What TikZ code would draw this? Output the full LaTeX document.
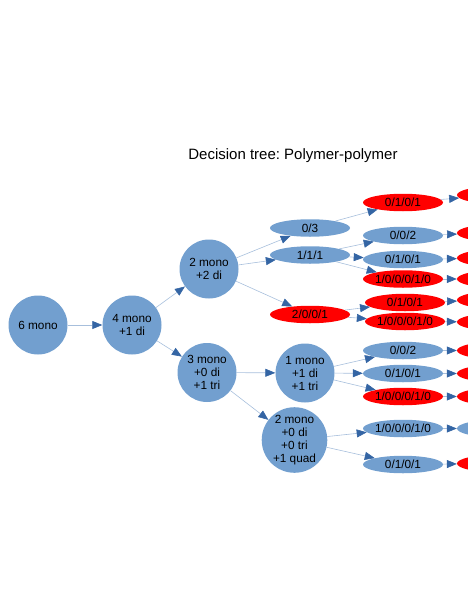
\documentclass[tikz,border=0pt]{standalone}
\usepackage{fontspec}
\setmainfont{Liberation Sans}
\frenchspacing
\usetikzlibrary{arrows.meta,shapes.geometric}
\definecolor{nodeblue}{HTML}{729FCF}
\definecolor{nodered}{HTML}{FF0000}
\definecolor{tipblue}{HTML}{3465A4}
\definecolor{lineblue}{HTML}{A7BFDC}
\tikzset{
  circ/.style={circle, fill=nodeblue, minimum size=#1, inner sep=0pt, align=center,
    font=\fontsize{11.8}{13}\selectfont},
  circ/.default=59pt,
  ell/.style={ellipse, fill=#1, minimum width=80pt, minimum height=17.5pt, inner sep=0pt,
    font=\fontsize{11.8}{13}\selectfont},
  conn/.style={draw=lineblue, line width=0.6pt,
    -{Triangle[length=10pt,width=8pt,color=tipblue]}},
}
\begin{document}
\begin{tikzpicture}[x=1pt,y=-1pt]
\useasboundingbox (0,0) rectangle (468,605);
\clip (0,0) rectangle (468,605);
\node[font=\fontsize{15}{17}\selectfont] (title) at (293,156) {Decision tree: Polymer-polymer};

% circles
\node[circ] (m6) at (38,325) {6 mono};
\node[circ] (m4) at (132,325) {4 mono\\+1 di};
\node[circ] (m2) at (209,269) {2 mono\\+2 di};
\node[circ] (m3) at (207,372.5) {3 mono\\+0 di\\+1 tri};
\node[circ] (m1) at (305,373) {1 mono\\+1 di\\+1 tri};
\node[circ=63pt] (mq) at (294.5,440) {2 mono\\+0 di\\+0 tri\\+1 quad};

% middle column
\node[ell=nodeblue] (a03) at (310,228) {0/3};
\node[ell=nodeblue] (a111) at (310,255) {1/1/1};
\node[ell=nodered] (a2001) at (310,314.5) {2/0/0/1};

% right column
\node[ell=nodered] (b1) at (403,202.5) {0/1/0/1};
\node[ell=nodeblue] (b2) at (403,235.5) {0/0/2};
\node[ell=nodeblue] (b3) at (403,259.5) {0/1/0/1};
\node[ell=nodered] (b4) at (403,279) {1/0/0/0/1/0};
\node[ell=nodered] (b5) at (405,302.5) {0/1/0/1};
\node[ell=nodered] (b6) at (405,321.5) {1/0/0/0/1/0};
\node[ell=nodeblue] (b7) at (403,350.5) {0/0/2};
\node[ell=nodeblue] (b8) at (403,373.5) {0/1/0/1};
\node[ell=nodered] (b9) at (403,396.5) {1/0/0/0/1/0};
\node[ell=nodeblue] (b10) at (403,428.5) {1/0/0/0/1/0};
\node[ell=nodeblue] (b11) at (403,464.5) {0/1/0/1};

% cut-off column
\node[ell=nodered] (c1) at (497,195) {};
\node[ell=nodered] (c2) at (497,233) {};
\node[ell=nodered] (c3) at (497,258) {};
\node[ell=nodered] (c4) at (497,279) {};
\node[ell=nodered] (c5) at (497,300) {};
\node[ell=nodered] (c6) at (497,322) {};
\node[ell=nodered] (c7) at (497,350.5) {};
\node[ell=nodered] (c8) at (497,373.5) {};
\node[ell=nodered] (c9) at (497,396.5) {};
\node[ell=nodeblue] (c10) at (497,428.5) {};
\node[ell=nodered] (c11) at (497,463.5) {};

% connectors
\draw[conn] (m6) -- (m4);
\draw[conn] (m4) -- (m2);
\draw[conn] (m4) -- (m3);
\draw[conn] (m2) -- (a03);
\draw[conn] (m2) -- (a111);
\draw[conn] (m2) -- (a2001);
\draw[conn] (m3) -- (m1);
\draw[conn] (m3) -- (mq);
\draw[conn] (a03) -- (b1);
\draw[conn] (a111) -- (b2);
\draw[conn] (a111) -- (b3);
\draw[conn] (a111) -- (b4);
\draw[conn] (a2001) -- (b5);
\draw[conn] (a2001) -- (b6);
\draw[conn] (m1) -- (b7);
\draw[conn] (m1) -- (b8);
\draw[conn] (m1) -- (b9);
\draw[conn] (mq) -- (b10);
\draw[conn] (mq) -- (b11);
\draw[conn] (b1) -- (c1);
\draw[conn] (b2) -- (c2);
\draw[conn] (b3) -- (c3);
\draw[conn] (b4) -- (c4);
\draw[conn] (b5) -- (c5);
\draw[conn] (b6) -- (c6);
\draw[conn] (b7) -- (c7);
\draw[conn] (b8) -- (c8);
\draw[conn] (b9) -- (c9);
\draw[conn] (b10) -- (c10);
\draw[conn] (b11) -- (c11);
\end{tikzpicture}
\end{document}
